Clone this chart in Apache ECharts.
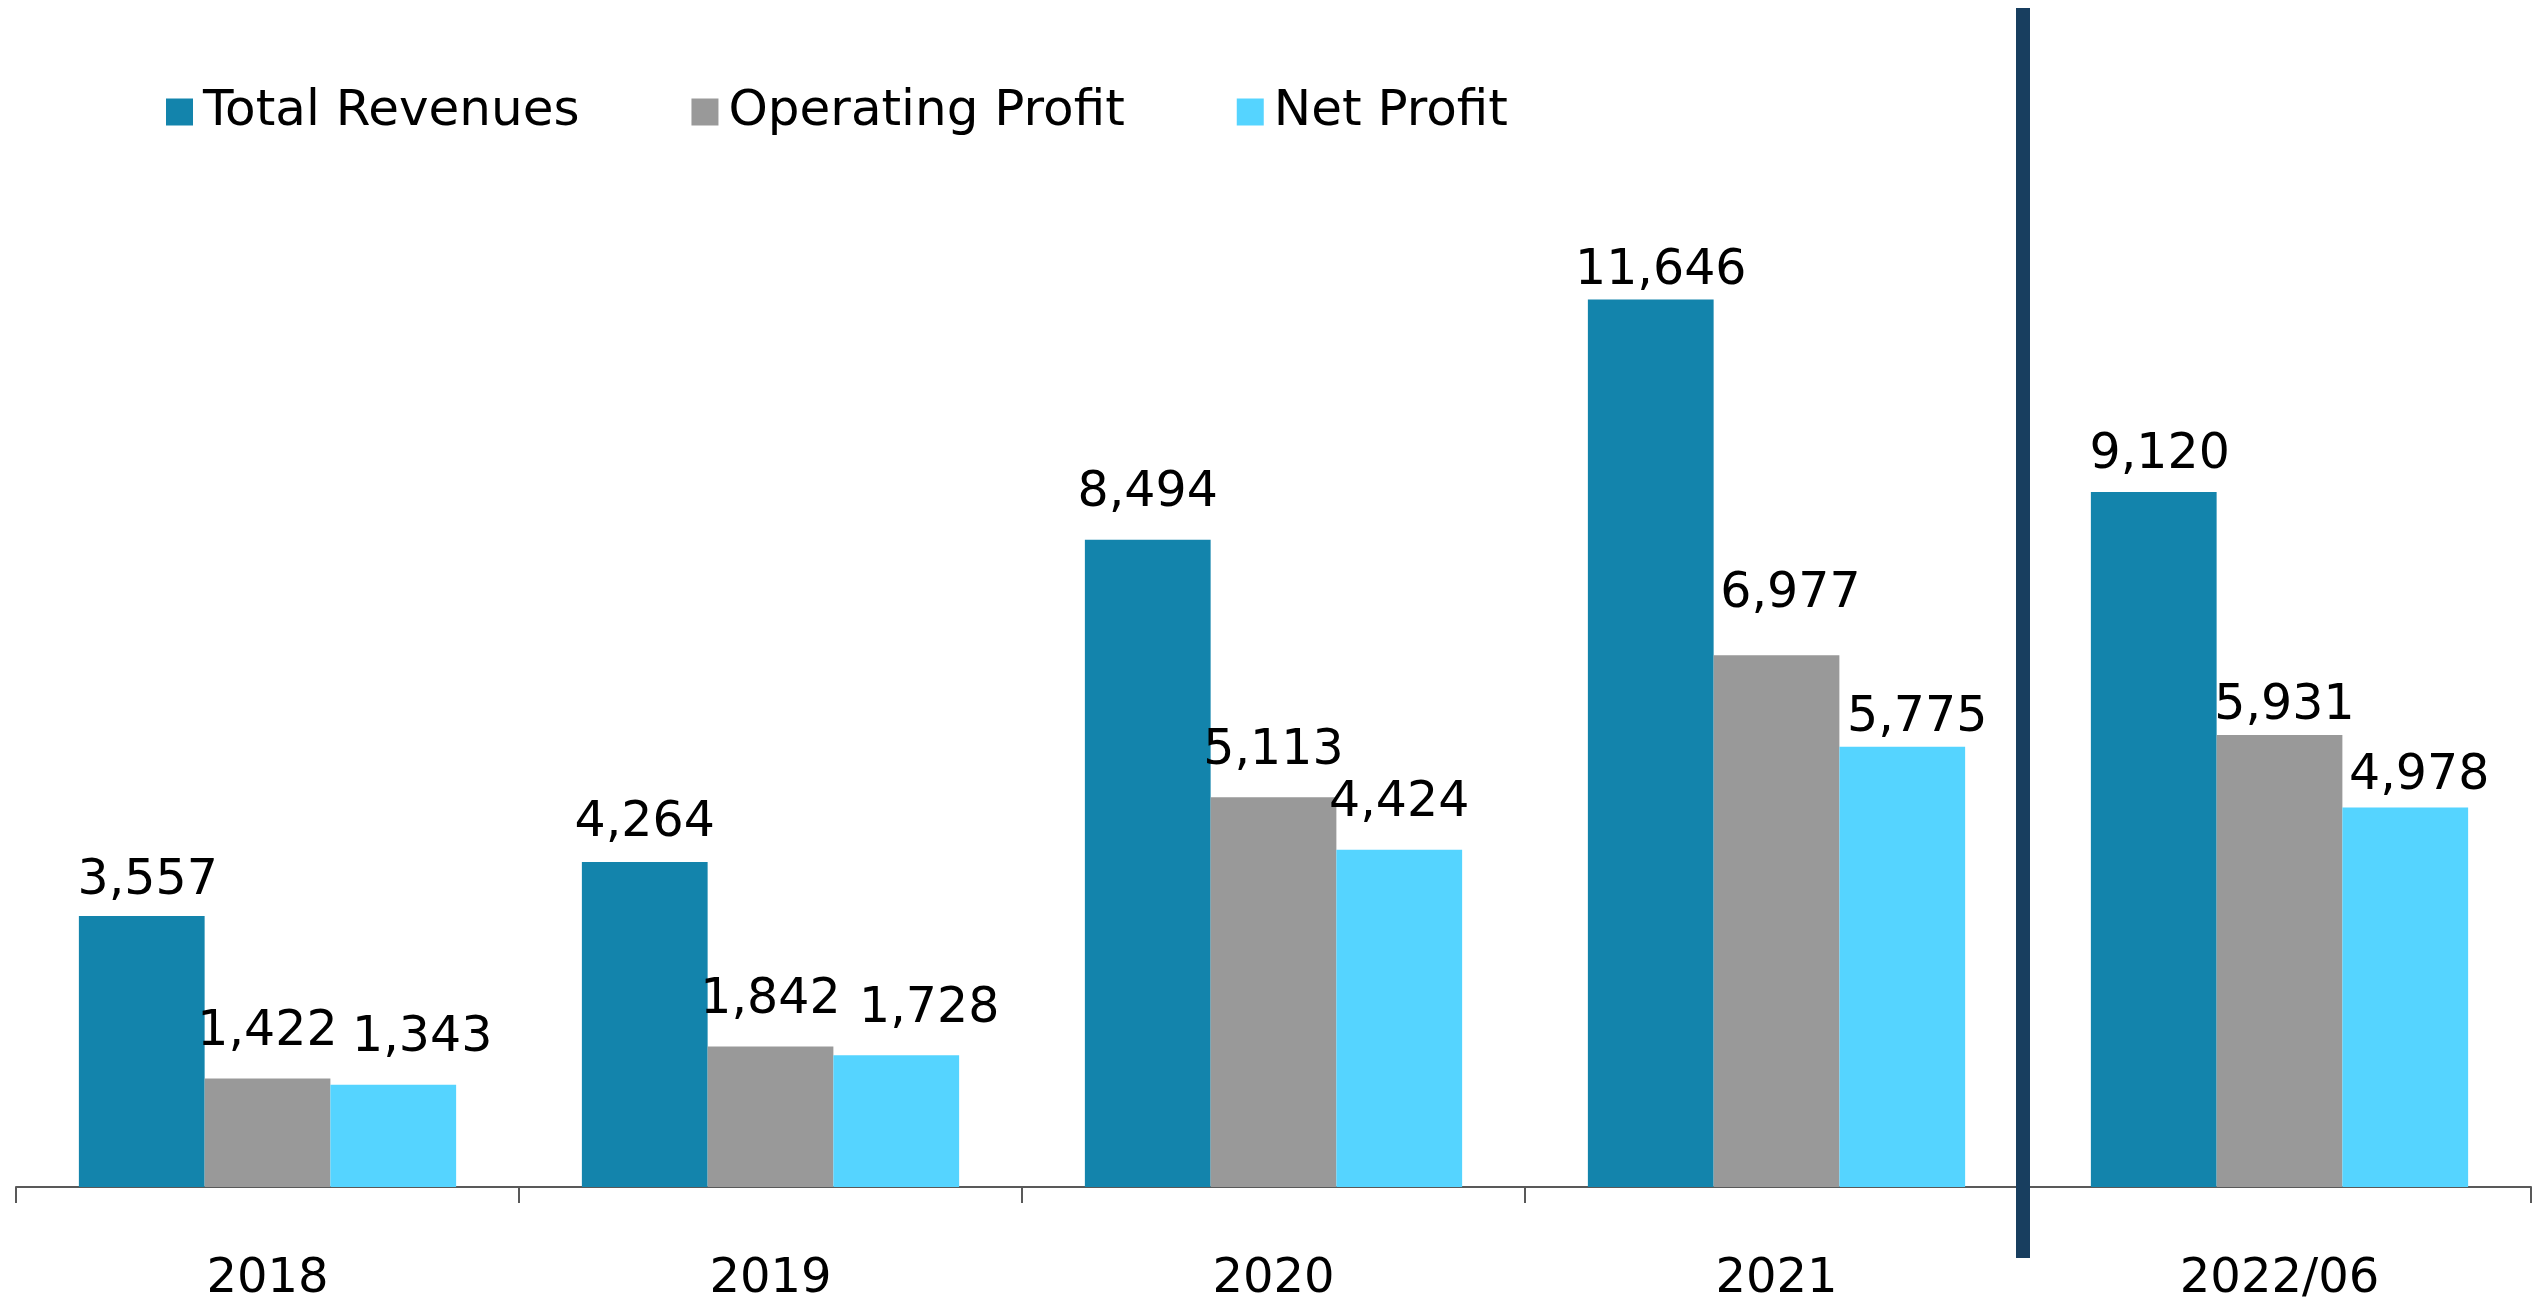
<!DOCTYPE html>
<html>
<head>
<meta charset="utf-8">
<script src="https://cdn.jsdelivr.net/npm/echarts@6/dist/echarts.min.js"></script>
<style>
  html, body { margin: 0; padding: 0; background: #ffffff; }
  #chart { width: 2547px; height: 1304px; }
</style>
</head>
<body>
<div id="chart"></div>
<script>
// Periods shown on the category axis
const periods = ['2018', '2019', '2020', '2021', '2022/06'];

// Financial results per period
const totalRevenues   = [3557, 4264, 8494, 11646, 9120];
const operatingProfit = [1422, 1842, 5113, 6977, 5931];
const netProfit       = [1343, 1728, 4424, 5775, 4978];

const seriesNames = ['Total Revenues', 'Operating Profit', 'Net Profit'];

const FONT = '"DejaVu Sans", Verdana, sans-serif';
const colors = ['#1384AC', '#999999', '#55D4FF'];

// Small per-label nudges [dx, dy] so neighbouring value labels don't collide
const labelNudge = {
  'Total Revenues':   [[6, 12], [0, 8], [0, 0], [10, 18], [6, 10]],
  'Operating Profit': [[0, 0], [0, 0], [0, 0], [14, -14], [5, 18]],
  'Net Profit':       [[29, 0], [33, 0], [0, 0], [15, 18], [14, 15]]
};

function makeSeries(name, values, color) {
  const nudges = labelNudge[name];
  return {
    name: name,
    type: 'bar',
    data: values.map((v, i) => ({
      value: v,
      label: { offset: nudges[i] }
    })),
    barGap: '0%',
    barCategoryGap: '25%',
    itemStyle: { color: color },
    label: {
      show: true,
      position: 'top',
      distance: 22,
      color: '#000000',
      fontFamily: FONT,
      fontSize: 49,
      formatter: p => p.value.toLocaleString('en-US')
    }
  };
}

const chart = echarts.init(document.getElementById('chart'));

const option = {
  backgroundColor: '#ffffff',
  animation: false,
  textStyle: { fontFamily: FONT },
  legend: {
    data: seriesNames,
    left: 166,
    top: 87,
    padding: 0,
    icon: 'rect',
    itemWidth: 27,
    itemHeight: 27,
    itemGap: 112,
    textStyle: {
      fontFamily: FONT,
      fontSize: 50,
      color: '#000000',
      padding: [0, 0, 0, 5]
    }
  },
  grid: {
    left: 16,
    right: 16,
    top: 120,
    bottom: 116,
    containLabel: false
  },
  xAxis: {
    type: 'category',
    data: periods,
    boundaryGap: true,
    axisLine: { show: true, lineStyle: { color: '#595959', width: 2 } },
    axisTick: { show: true, length: 16, lineStyle: { color: '#595959', width: 2 } },
    axisLabel: {
      color: '#000000',
      fontFamily: FONT,
      fontSize: 48,
      margin: 69
    }
  },
  yAxis: {
    type: 'value',
    min: 0,
    max: 14000,
    show: false,
    splitLine: { show: false }
  },
  series: [
    makeSeries(seriesNames[0], totalRevenues, colors[0]),
    makeSeries(seriesNames[1], operatingProfit, colors[1]),
    makeSeries(seriesNames[2], netProfit, colors[2])
  ]
};

chart.setOption(option);

// Separator between full-year and half-year figures
const xa = chart.convertToPixel({ xAxisIndex: 0 }, periods[3]);
const xb = chart.convertToPixel({ xAxisIndex: 0 }, periods[4]);
const sepX = (xa + xb) / 2 - 5;
chart.setOption({
  graphic: [{
    type: 'rect',
    shape: { x: sepX - 7, y: 8, width: 14, height: 1250 },
    style: { fill: '#183E5F' },
    z: 100
  }]
});
</script>
</body>
</html>
